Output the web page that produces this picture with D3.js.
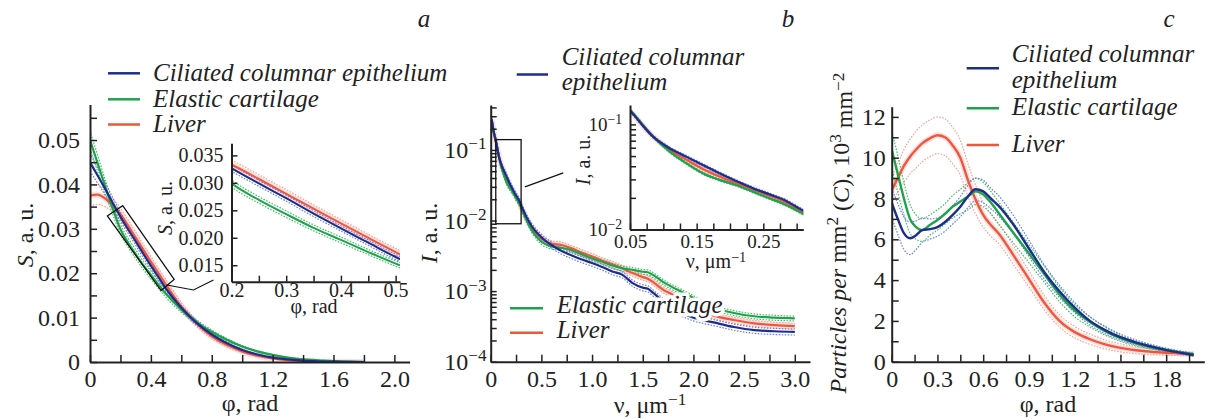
<!DOCTYPE html>
<html>
<head>
<meta charset="utf-8">
<script src="https://cdn.jsdelivr.net/npm/d3@7"></script>
<style>
  body { margin: 0; background: #fff; }
  svg { display: block; }
  svg text { font-family: "Liberation Serif", "DejaVu Serif", "Times New Roman", Times, serif; }
  .axis path { stroke: #222; stroke-width: 2; }
  .axis line { stroke: #222; stroke-width: 1.5; }
  .axis text { fill: #222; }
</style>
</head>
<body>
<div id="chart"></div>
<script>
// ---- data ----
const seriesNames = ['Ciliated columnar epithelium', 'Elastic cartilage', 'Liver'];

// panel a: S(phi)
const phiA = [0, 0.05, 0.1, 0.15, 0.2, 0.25, 0.3, 0.35, 0.4, 0.45, 0.5, 0.6, 0.7, 0.8, 0.9, 1.0, 1.1, 1.2, 1.3, 1.4, 1.5, 1.6, 1.7, 1.8];
const sBlue  = [0.045, 0.042, 0.039, 0.0358, 0.0327, 0.0299, 0.0272, 0.0244, 0.0217, 0.0191, 0.0165, 0.0122, 0.0088, 0.0062, 0.0042, 0.0027, 0.0017, 0.0010, 0.0006, 0.0003, 0.00015, 0.00007, 0.00003, 0];
const sGreen = [0.050, 0.0448, 0.0395, 0.0345, 0.0299, 0.0269, 0.0243, 0.0218, 0.0196, 0.0174, 0.0153, 0.0118, 0.0090, 0.0068, 0.0050, 0.0035, 0.0024, 0.0016, 0.0010, 0.0006, 0.0004, 0.0002, 0.0001, 0.00003];
const sRed   = [0.0375, 0.0377, 0.0368, 0.0352, 0.0333, 0.0307, 0.0280, 0.0253, 0.0226, 0.0200, 0.0174, 0.0125, 0.0087, 0.0058, 0.0038, 0.0024, 0.0014, 0.0008, 0.0004, 0.0002, 0.0001, 0.00004, 0.00001, 0];
const sBlueSd  = [0.002, 0.0017, 0.0014, 0.0012, 0.0010, 0.0009, 0.0009, 0.0009, 0.0008, 0.0008, 0.0008, 0.0006, 0.0005, 0.0004, 0.0003, 0.0002, 0.00015, 0.0001, 0.00008, 0.00005, 0.00003, 0.00002, 0.00001, 0];
const sGreenSd = [0.002, 0.0018, 0.0015, 0.0013, 0.0011, 0.0010, 0.0010, 0.0009, 0.0009, 0.0008, 0.0008, 0.0006, 0.0005, 0.0004, 0.0003, 0.0002, 0.00015, 0.0001, 0.00008, 0.00005, 0.00003, 0.00002, 0.00001, 0];
const sRedSd   = [0.0025, 0.0022, 0.0018, 0.0015, 0.0014, 0.0013, 0.0013, 0.0012, 0.0012, 0.0011, 0.0011, 0.0009, 0.0007, 0.0005, 0.0004, 0.0003, 0.0002, 0.00015, 0.0001, 0.00006, 0.00004, 0.00002, 0.00001, 0];

// panel b: I(nu)
const nuB = [0.01, 0.03, 0.05, 0.085, 0.11, 0.135, 0.16, 0.185, 0.21, 0.235, 0.26, 0.285, 0.3, 0.4, 0.5, 0.6, 0.7, 0.8, 0.9, 1.0, 1.1, 1.2, 1.3, 1.4, 1.5, 1.55, 1.6, 1.7, 1.8, 1.9, 2.0, 2.2, 2.4, 2.6, 2.8, 3.0];
const iBlue  = [0.27, 0.18, 0.135, 0.0762, 0.059, 0.0491, 0.0409, 0.0341, 0.0288, 0.0246, 0.0215, 0.0186, 0.0164, 0.0085, 0.0058, 0.0045, 0.0037, 0.0032, 0.0028, 0.0025, 0.0022, 0.0019, 0.0017, 0.0013, 0.00112, 0.00108, 0.00095, 0.00072, 0.00057, 0.00048, 0.00042, 0.00036, 0.00031, 0.00028, 0.00027, 0.000265];
const iGreen = [0.26, 0.18, 0.137, 0.0762, 0.0548, 0.0425, 0.0341, 0.0295, 0.0264, 0.0228, 0.0197, 0.0170, 0.0152, 0.0075, 0.0050, 0.0043, 0.0041, 0.0038, 0.0033, 0.0029, 0.0026, 0.0023, 0.0021, 0.0020, 0.00188, 0.00185, 0.0017, 0.00135, 0.00112, 0.00095, 0.0008, 0.00058, 0.00049, 0.00044, 0.00042, 0.00041];
const iRed   = [0.27, 0.18, 0.135, 0.0762, 0.057, 0.046, 0.0375, 0.0318, 0.0275, 0.0240, 0.0208, 0.0180, 0.0156, 0.0082, 0.0056, 0.0047, 0.0045, 0.0040, 0.0035, 0.0031, 0.0027, 0.0024, 0.0021, 0.0018, 0.00158, 0.0015, 0.00135, 0.00105, 0.00088, 0.00072, 0.0006, 0.00045, 0.00039, 0.00035, 0.00033, 0.00032];
const iRelSd = [0.1, 0.08, 0.1]; // blue, green, red

// panel c: particles per mm^2
const phiC = [0, 0.04, 0.08, 0.12, 0.16, 0.2, 0.25, 0.3, 0.35, 0.4, 0.45, 0.5, 0.55, 0.6, 0.65, 0.7, 0.8, 0.9, 1.0, 1.1, 1.2, 1.3, 1.4, 1.5, 1.6, 1.7, 1.8, 1.9, 1.98];
const cBlue  = [7.8, 7.0, 6.3, 6.05, 6.2, 6.45, 6.5, 6.6, 6.85, 7.2, 7.6, 8.1, 8.45, 8.35, 8.0, 7.65, 6.7, 5.55, 4.4, 3.45, 2.65, 2.0, 1.55, 1.2, 0.95, 0.75, 0.57, 0.43, 0.33];
const cGreen = [10.4, 9.2, 8.0, 7.0, 6.6, 6.45, 6.7, 6.95, 7.25, 7.6, 7.85, 8.1, 8.35, 8.2, 7.8, 7.3, 6.3, 5.3, 4.3, 3.3, 2.5, 1.95, 1.5, 1.15, 0.9, 0.72, 0.58, 0.45, 0.36];
const cRed   = [8.4, 9.0, 9.6, 10.05, 10.4, 10.7, 10.95, 11.1, 11.0, 10.6, 10.0, 8.9, 7.95, 7.2, 6.7, 6.3, 5.2, 4.05, 2.9, 2.0, 1.45, 1.1, 0.85, 0.68, 0.56, 0.49, 0.44, 0.40, 0.37];
const cBlueSd  = [0.7, 0.75, 0.8, 0.8, 0.7, 0.6, 0.5, 0.45, 0.45, 0.45, 0.5, 0.55, 0.55, 0.55, 0.5, 0.5, 0.45, 0.4, 0.35, 0.3, 0.25, 0.2, 0.18, 0.15, 0.12, 0.1, 0.08, 0.07, 0.06];
const cGreenSd = [0.9, 0.9, 0.8, 0.7, 0.6, 0.55, 0.5, 0.5, 0.5, 0.55, 0.6, 0.65, 0.65, 0.6, 0.55, 0.55, 0.5, 0.45, 0.4, 0.35, 0.3, 0.25, 0.2, 0.15, 0.12, 0.1, 0.08, 0.07, 0.06];
const cRedSd   = [0.6, 0.7, 0.8, 0.85, 0.9, 0.9, 0.9, 0.9, 0.9, 0.9, 0.85, 0.8, 0.7, 0.6, 0.55, 0.5, 0.45, 0.4, 0.35, 0.3, 0.28, 0.25, 0.22, 0.2, 0.17, 0.15, 0.12, 0.1, 0.08];

// tick labels
const aXLabels = ['0', '0.4', '0.8', '1.2', '1.6', '2.0'];
const aYLabels = ['0', '0.01', '0.02', '0.03', '0.04', '0.05'];
const aInXLabels = ['0.2', '0.3', '0.4', '0.5'];
const aInYLabels = ['0.015', '0.020', '0.025', '0.030', '0.035'];
const bXLabels = ['0', '0.5', '1.0', '1.5', '2.0', '2.5', '3.0'];
const bYExp = ['−4', '−3', '−2', '−1'];
const bInXLabels = ['0.05', '0.15', '0.25'];
const bInYExp = ['−2', '−1'];
const cXLabels = ['0', '0.3', '0.6', '0.9', '1.2', '1.5', '1.8'];
const cYLabels = ['0', '2', '4', '6', '8', '10', '12'];

// ---- drawing ----
const SERIF = '"Liberation Serif", "DejaVu Serif", "Times New Roman", Times, serif';
const colors = [
  { main: '#1d2d8c', light: '#6d82dc' },
  { main: '#1ea34b', light: '#48bf6c' },
  { main: '#f2553d', light: '#f7a398', halo: '#fde3df' }
];

const svg = d3.select('#chart').append('svg').attr('width', 1209).attr('height', 419)
  .attr('font-family', SERIF);
const defs = svg.append('defs');

function clip(id, x0, y0, x1, y1) {
  defs.append('clipPath').attr('id', id).append('rect')
    .attr('x', x0).attr('y', y0).attr('width', x1 - x0).attr('height', y1 - y0);
  return 'url(#' + id + ')';
}

function curve(g, xs, ys, x, y, color, width, dash) {
  const line = d3.line().x((d, i) => x(xs[i])).y(d => y(d)).curve(d3.curveMonotoneX);
  g.append('path').datum(ys).attr('d', line)
    .attr('fill', 'none').attr('stroke', color).attr('stroke-width', width)
    .attr('stroke-dasharray', dash || null).attr('stroke-linejoin', 'round');
}

// draws bands for all series, then the mean lines (red, green, blue)
function drawSet(g, xs, means, lows, highs, x, y, mainW) {
  [2, 1, 0].forEach(k => {
    if (colors[k].halo) curve(g, xs, means[k], x, y, colors[k].halo, 6);
  });
  [2, 1, 0].forEach(k => {
    curve(g, xs, lows[k], x, y, colors[k].light, 1.2, '1.6,1.4');
    curve(g, xs, highs[k], x, y, colors[k].light, 1.2, '1.6,1.4');
  });
  [2, 1, 0].forEach(k => curve(g, xs, means[k], x, y, colors[k].main, mainW));
}

function fmtFrom(vals, labels) {
  return d => {
    const i = vals.findIndex(v => Math.abs(v - d) < 1e-9);
    return i < 0 ? '' : labels[i];
  };
}

function bottomAxis(y0, scale, ticks, labVals, labels, fs, pad, size) {
  const ax = d3.axisBottom(scale).tickValues(ticks).tickSizeInner(-size).tickSizeOuter(0)
    .tickPadding(pad).tickFormat(fmtFrom(labVals, labels));
  return svg.append('g').attr('class', 'axis').attr('transform', 'translate(0,' + y0 + ')')
    .call(ax).attr('font-size', fs).attr('font-family', SERIF);
}

function leftAxis(x0, scale, ticks, labVals, labels, fs, pad, size) {
  const ax = d3.axisLeft(scale).tickValues(ticks).tickSizeInner(-size).tickSizeOuter(0)
    .tickPadding(pad).tickFormat(fmtFrom(labVals, labels));
  return svg.append('g').attr('class', 'axis').attr('transform', 'translate(' + x0 + ',0)')
    .call(ax).attr('font-size', fs).attr('font-family', SERIF);
}

// "10" with superscript exponent on log axes
function powerLabels(axisG, decades, exps) {
  axisG.selectAll('.tick text').each(function(d) {
    const i = decades.findIndex(v => Math.abs(v - d) / v < 1e-6);
    const t = d3.select(this).text(null);
    if (i < 0) return;
    t.append('tspan').text('10');
    t.append('tspan').attr('dy', '-0.5em').attr('font-size', '0.72em').text(exps[i]);
  });
}

function label(x, y, fs, parts, rotate, anchor) {
  const t = svg.append('text').attr('font-size', fs).attr('fill', '#222')
    .attr('text-anchor', anchor || 'middle')
    .attr('transform', 'translate(' + x + ',' + y + ')' + (rotate ? ' rotate(-90)' : ''));
  parts.forEach(p => {
    const s = t.append('tspan').text(p.t);
    if (p.i) s.attr('font-style', 'italic');
    if (p.sup) s.attr('dy', '-0.45em').attr('font-size', '0.72em');
    if (p.down) s.attr('dy', '0.45em');
  });
  return t;
}

function legendLine(x0, x1, y, k) {
  svg.append('line').attr('x1', x0).attr('x2', x1).attr('y1', y).attr('y2', y)
    .attr('stroke', colors[k].main).attr('stroke-width', 2.5);
}

function legendText(x, y, txt, halo) {
  const t = svg.append('text').attr('x', x).attr('y', y).attr('font-size', 25)
    .attr('font-style', 'italic').attr('fill', '#222').text(txt);
  if (halo) t.attr('stroke', '#fff').attr('stroke-width', 7).attr('paint-order', 'stroke').attr('stroke-linejoin', 'round');
}

const steps = (a, b, s) => d3.range(Math.round((b - a) / s) + 1).map(i => +(a + i * s).toFixed(6));
const band = (m, sd, sign) => m.map((v, i) => v + sign * sd[i]);

// ===== panel a =====
const xA = d3.scaleLinear().domain([0, 2.1]).range([90, 409.6]);
const yA = d3.scaleLinear().domain([0, 0.058]).range([362, 104.5]);
const meansA = [sBlue, sGreen, sRed];
const sdA = [sBlueSd, sGreenSd, sRedSd];
const gA = svg.append('g').attr('clip-path', clip('clipA', 90, 104, 410, 362));
drawSet(gA, phiA, meansA, meansA.map((m, k) => band(m, sdA[k], -1)), meansA.map((m, k) => band(m, sdA[k], 1)), xA, yA, 2.2);
bottomAxis(362, xA, steps(0, 2.0, 0.2), steps(0, 2.0, 0.4), aXLabels, 24, 8, 7);
leftAxis(90, yA, steps(0, 0.055, 0.005), steps(0, 0.05, 0.01), aYLabels, 24, 10, 7);
label(250, 411, 24, [{ t: 'φ, rad' }]);
label(33, 235, 24, [{ t: 'S', i: true }, { t: ', a. u.' }], true);

// zoom box and connector (data coordinates)
const boxA = [[0.114, 0.0329], [0.215, 0.0352], [0.553, 0.0186], [0.467, 0.0161]];
svg.append('polygon').attr('points', boxA.map(p => xA(p[0]) + ',' + yA(p[1])).join(' '))
  .attr('fill', 'none').attr('stroke', '#111').attr('stroke-width', 1.3);
const connA = [[0.505, 0.01734], [0.68, 0.01622], [0.811, 0.01847]];
svg.append('path').attr('d', d3.line().x(p => xA(p[0])).y(p => yA(p[1]))(connA))
  .attr('fill', 'none').attr('stroke', '#111').attr('stroke-width', 1.2);

// inset a
const xAi = d3.scaleLinear().domain([0.2, 0.508]).range([231.5, 400]);
const yAi = d3.scaleLinear().domain([0.012, 0.0372]).range([281.7, 143.3]);
const gAi = svg.append('g').attr('clip-path', clip('clipAi', 231.5, 143, 400, 281.7));
drawSet(gAi, phiA, meansA, meansA.map((m, k) => band(m, sdA[k].map(v => v * 0.6), -1)), meansA.map((m, k) => band(m, sdA[k].map(v => v * 0.6), 1)), xAi, yAi, 2);
bottomAxis(281.7, xAi, steps(0.2, 0.5, 0.05), steps(0.2, 0.5, 0.1), aInXLabels, 20, 1, 6);
leftAxis(231.5, yAi, steps(0.015, 0.035, 0.005), steps(0.015, 0.035, 0.005), aInYLabels, 20, 8, 6);
label(314, 313, 20, [{ t: 'φ, rad' }]);
label(172, 208, 20, [{ t: 'S', i: true }, { t: ', a. u.' }], true);

// legend a
const legAY = [73.3, 99.3, 124.5];
seriesNames.forEach((n, k) => {
  legendLine(108, 140, legAY[k], k);
  legendText(153, legAY[k] + 7.5, n);
});

// ===== panel b =====
const xB = d3.scaleLinear().domain([0, 3.15]).range([490.7, 810]);
const yB = d3.scaleLog().domain([1e-4, 0.433]).range([361.7, 105]);
const meansB = [iBlue, iGreen, iRed];
const gB = svg.append('g').attr('clip-path', clip('clipB', 490.7, 105, 810, 361.7));
drawSet(gB, nuB, meansB, meansB.map((m, k) => m.map(v => v * (1 - iRelSd[k]))), meansB.map((m, k) => m.map(v => v * (1 + iRelSd[k]))), xB, yB, 2.2);
bottomAxis(361.7, xB, steps(0, 3.0, 0.25), steps(0, 3.0, 0.5), bXLabels, 24, 8, 7);
const bYAxis = leftAxis(490.7, yB, yB.ticks(), [], [], 24, 4, 6);
powerLabels(bYAxis, [1e-4, 1e-3, 1e-2, 1e-1], bYExp);
label(650, 413, 24, [{ t: 'ν, μm' }, { t: '−1', sup: true }]);
label(437, 233, 24, [{ t: 'I', i: true }, { t: ', a. u.' }], true);

// zoom box and connector
const boxB = [0.05, 0.3, 0.009, 0.14];
svg.append('rect').attr('x', xB(boxB[0])).attr('y', yB(boxB[3]))
  .attr('width', xB(boxB[1]) - xB(boxB[0])).attr('height', yB(boxB[2]) - yB(boxB[3]))
  .attr('fill', 'none').attr('stroke', '#111').attr('stroke-width', 1.3);
const connB = [[0.338, 0.030], [0.716, 0.0473]];
svg.append('path').attr('d', d3.line().x(p => xB(p[0])).y(p => yB(p[1]))(connB))
  .attr('fill', 'none').attr('stroke', '#111').attr('stroke-width', 1.2);

// inset b
const xBi = d3.scaleLinear().domain([0.05, 0.31]).range([630, 803.3]);
const yBi = d3.scaleLog().domain([0.01, 0.153]).range([229.5, 105]);
const gBi = svg.append('g').attr('clip-path', clip('clipBi', 630, 105, 803.3, 229.5));
drawSet(gBi, nuB, meansB, meansB.map((m, k) => m.map(v => v * (1 - iRelSd[k] * 0.3))), meansB.map((m, k) => m.map(v => v * (1 + iRelSd[k] * 0.3))), xBi, yBi, 2.2);
bottomAxis(229.5, xBi, steps(0.05, 0.3, 0.025), steps(0.05, 0.25, 0.1), bInXLabels, 19, 5, 6);
const bInY = leftAxis(630, yBi, yBi.ticks(), [], [], 19, 8, 6);
powerLabels(bInY, [0.01, 0.1], bInYExp);
label(716, 268, 20, [{ t: 'ν, μm' }, { t: '−1', sup: true }]);
label(590, 160, 20, [{ t: 'I', i: true }, { t: ', a. u.' }], true);

// legend b
legendLine(516.7, 548, 74.5, 0);
legendText(561.7, 65, 'Ciliated columnar');
legendText(561.7, 90, 'epithelium');
legendLine(510, 543, 308.3, 1);
legendText(556.7, 313.3, seriesNames[1], true);
legendLine(510, 543, 332.7, 2);
legendText(556.7, 338.3, seriesNames[2], true);

// ===== panel c =====
const xC = d3.scaleLinear().domain([0, 2.05]).range([891.7, 1204.3]);
const yC = d3.scaleLinear().domain([0, 12.5]).range([361.7, 106.7]);
const meansC = [cBlue, cGreen, cRed];
const sdC = [cBlueSd, cGreenSd, cRedSd];
const gC = svg.append('g').attr('clip-path', clip('clipC', 891.7, 106, 1205, 361.7));
drawSet(gC, phiC, meansC, meansC.map((m, k) => band(m, sdC[k], -1)), meansC.map((m, k) => band(m, sdC[k], 1)), xC, yC, 2.4);
bottomAxis(361.7, xC, steps(0, 1.95, 0.15), steps(0, 1.8, 0.3), cXLabels, 24, 8, 7);
leftAxis(891.7, yC, steps(0, 12, 1), steps(0, 12, 2), cYLabels, 24, 6, 7);
label(1048, 411.7, 24, [{ t: 'φ, rad' }]);
label(846, 233, 24, [
  { t: 'Particles per', i: true }, { t: ' mm' }, { t: '2', sup: true }, { t: ' (', down: true },
  { t: 'C', i: true }, { t: '), 10' }, { t: '3', sup: true }, { t: ' mm', down: true }, { t: '−2', sup: true }
], true);

// legend c
legendLine(966.7, 999, 68.3, 0);
legendText(1011.7, 61.7, 'Ciliated columnar');
legendText(1011.7, 88.3, 'epithelium');
legendLine(966.7, 999, 108.3, 1);
legendText(1011.7, 115, seriesNames[1]);
legendLine(966.7, 999, 145, 2);
legendText(1011.7, 151.7, seriesNames[2]);

// panel letters
[['a', 424], ['b', 788], ['c', 1169]].forEach(p => {
  svg.append('text').attr('x', p[1]).attr('y', 27).attr('text-anchor', 'middle')
    .attr('font-size', 25).attr('font-style', 'italic').attr('fill', '#222').text(p[0]);
});
</script>
</body>
</html>
